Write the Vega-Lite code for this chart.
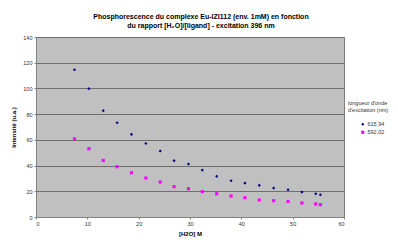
{
  "$schema": "https://vega.github.io/schema/vega-lite/v6.json",
  "width": 308,
  "height": 180,
  "autosize": {"type": "none"},
  "padding": {"left": 36, "top": 37, "right": 54, "bottom": 31},
  "background": "white",
  "title": {
    "text": ["Phosphorescence du complexe Eu-IZI112 (env. 1mM) en fonction", "du rapport [H₂O]/[ligand] - excitation 396 nm"],
    "font": "Liberation Sans",
    "fontSize": 7,
    "fontWeight": "bold",
    "lineHeight": 9,
    "anchor": "middle",
    "dx": 11,
    "offset": 6,
    "color": "black"
  },
  "config": {
    "view": {"fill": "#C0C0C0", "stroke": "#808080", "strokeWidth": 1},
    "axis": {
      "labelFont": "Liberation Sans",
      "labelFontSize": 5.5,
      "labelColor": "#333333",
      "titleFont": "Liberation Sans",
      "titleFontSize": 6,
      "titleFontWeight": "bold",
      "titleColor": "black",
      "domainColor": "#808080",
      "tickColor": "#808080",
      "tickSize": 2,
      "gridColor": "#6E6E6E",
      "gridWidth": 1
    }
  },
  "data": {
    "values": [
      {"h2o": 7.5, "intensite": 114.5, "lambda": "615,94"},
      {"h2o": 10.3, "intensite": 99.8, "lambda": "615,94"},
      {"h2o": 13.1, "intensite": 82.7, "lambda": "615,94"},
      {"h2o": 15.8, "intensite": 73.3, "lambda": "615,94"},
      {"h2o": 18.6, "intensite": 64.3, "lambda": "615,94"},
      {"h2o": 21.4, "intensite": 57.2, "lambda": "615,94"},
      {"h2o": 24.2, "intensite": 51.3, "lambda": "615,94"},
      {"h2o": 26.9, "intensite": 43.8, "lambda": "615,94"},
      {"h2o": 29.7, "intensite": 41.2, "lambda": "615,94"},
      {"h2o": 32.4, "intensite": 36.5, "lambda": "615,94"},
      {"h2o": 35.2, "intensite": 31.6, "lambda": "615,94"},
      {"h2o": 38.0, "intensite": 28.2, "lambda": "615,94"},
      {"h2o": 40.7, "intensite": 26.4, "lambda": "615,94"},
      {"h2o": 43.5, "intensite": 24.6, "lambda": "615,94"},
      {"h2o": 46.3, "intensite": 22.5, "lambda": "615,94"},
      {"h2o": 49.1, "intensite": 21.2, "lambda": "615,94"},
      {"h2o": 51.8, "intensite": 19.4, "lambda": "615,94"},
      {"h2o": 54.5, "intensite": 18.1, "lambda": "615,94"},
      {"h2o": 55.4, "intensite": 17.3, "lambda": "615,94"},
      {"h2o": 7.5, "intensite": 60.7, "lambda": "592,02"},
      {"h2o": 10.3, "intensite": 53.1, "lambda": "592,02"},
      {"h2o": 13.1, "intensite": 44.0, "lambda": "592,02"},
      {"h2o": 15.8, "intensite": 39.1, "lambda": "592,02"},
      {"h2o": 18.6, "intensite": 34.4, "lambda": "592,02"},
      {"h2o": 21.4, "intensite": 30.3, "lambda": "592,02"},
      {"h2o": 24.2, "intensite": 27.2, "lambda": "592,02"},
      {"h2o": 26.9, "intensite": 23.6, "lambda": "592,02"},
      {"h2o": 29.7, "intensite": 22.0, "lambda": "592,02"},
      {"h2o": 32.4, "intensite": 19.7, "lambda": "592,02"},
      {"h2o": 35.2, "intensite": 18.1, "lambda": "592,02"},
      {"h2o": 38.0, "intensite": 16.3, "lambda": "592,02"},
      {"h2o": 40.7, "intensite": 15.0, "lambda": "592,02"},
      {"h2o": 43.5, "intensite": 13.2, "lambda": "592,02"},
      {"h2o": 46.3, "intensite": 12.7, "lambda": "592,02"},
      {"h2o": 49.1, "intensite": 12.1, "lambda": "592,02"},
      {"h2o": 51.8, "intensite": 10.9, "lambda": "592,02"},
      {"h2o": 54.5, "intensite": 10.1, "lambda": "592,02"},
      {"h2o": 55.4, "intensite": 9.6, "lambda": "592,02"}
    ]
  },
  "mark": {"type": "point", "filled": true, "opacity": 1, "size": 10},
  "encoding": {
    "x": {
      "field": "h2o",
      "type": "quantitative",
      "scale": {"domain": [0, 60], "nice": false},
      "axis": {"title": "[H2O] M", "values": [0, 10, 20, 30, 40, 50, 60], "grid": false, "titlePadding": 4, "labelPadding": 2}
    },
    "y": {
      "field": "intensite",
      "type": "quantitative",
      "scale": {"domain": [0, 140], "nice": false},
      "axis": {"title": "Intensité (u.a.)", "values": [0, 20, 40, 60, 80, 100, 120, 140], "grid": true, "titlePadding": 6, "labelPadding": 2}
    },
    "color": {
      "field": "lambda",
      "type": "nominal",
      "sort": ["615,94", "592,02"],
      "scale": {"domain": ["615,94", "592,02"], "range": ["#000080", "#FF00FF"]},
      "legend": {
        "title": ["longueur d'onde", "d'excitation (nm)"],
        "orient": "none",
        "legendX": 312,
        "legendY": 64,
        "titleFont": "Liberation Sans",
        "titleFontSize": 5.5,
        "titleFontWeight": "normal",
        "titleColor": "#333333",
        "titleLineHeight": 7,
        "titlePadding": 8,
        "labelFont": "Liberation Sans",
        "labelFontSize": 5.5,
        "labelColor": "#333333",
        "symbolSize": 10,
        "symbolOffset": 12,
        "rowPadding": 1,
        "labelOffset": 2,
        "offset": 0
      }
    },
    "shape": {
      "field": "lambda",
      "type": "nominal",
      "scale": {"domain": ["615,94", "592,02"], "range": ["diamond", "square"]},
      "legend": null
    }
  }
}
